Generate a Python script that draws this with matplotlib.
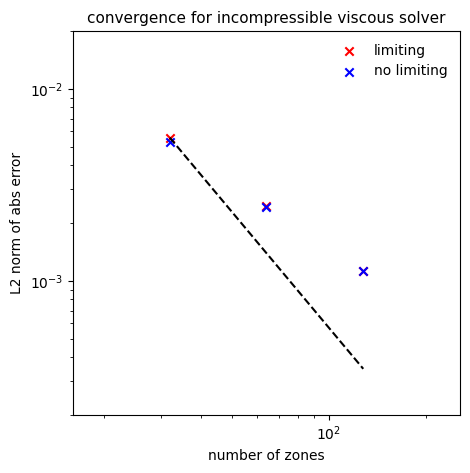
import matplotlib
matplotlib.use("Agg")
import matplotlib.pyplot as plt

N = [32, 64, 128]
err_limiting = [5.57e-3, 2.45e-3, 1.12e-3]
err_nolimiting = [5.26e-3, 2.42e-3, 1.12e-3]
ref_N = [32, 128]
ref_err = [5.57e-3, 3.48e-4]

fig = plt.figure(figsize=(4.7, 4.73), dpi=100)
ax = fig.add_axes([73/470, 1-415/473, 387/470, 384/473])
ax.scatter(N, err_limiting, marker="x", color="r", label="limiting")
ax.scatter(N, err_nolimiting, marker="x", color="b", label="no limiting")
ax.plot(ref_N, ref_err, color="k", ls="--")
ax.set_xscale("log")
ax.set_yscale("log")
ax.set_xlim(16, 256)
ax.set_ylim(2e-4, 2e-2)
ax.set_xlabel("number of zones")
ax.set_ylabel("L2 norm of abs error")
ax.set_title("convergence for incompressible viscous solver", fontsize=11)
ax.legend(frameon=False, loc="upper right")
fig.savefig("out.png", dpi=100)
